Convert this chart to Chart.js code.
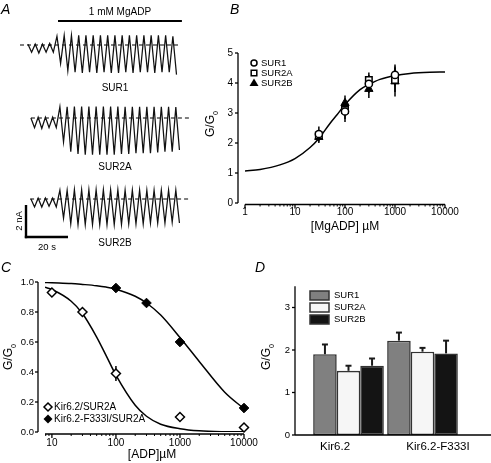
<!DOCTYPE html>
<html><head><meta charset="utf-8">
<script src="https://cdn.jsdelivr.net/npm/chart.js@4.4.1/dist/chart.umd.min.js"></script>
<style>
html,body{margin:0;padding:0;background:#fff;width:491px;height:463px;overflow:hidden}
canvas{position:absolute;left:0;top:0}
</style></head><body>
<canvas id="cA" width="491" height="463"></canvas>
<canvas id="cB" width="491" height="463"></canvas>
<canvas id="cC" width="491" height="463"></canvas>
<canvas id="cD" width="491" height="463"></canvas>
<script>
// ================= DATA =================
// Panel A: current traces (nA), one peak and one trough per voltage cycle
const traceCycleSec = 3.45;
const sur1StartSec = 3.8, sur2aStartSec = 5.2, sur2bStartSec = 5.2;
const adpWindowSec = [18.1, 77.1];
const sur1Peaks   = [0.05,0.05,0.05,0.10, 0.55,0.60,0.60,0.60,0.60,0.60,0.60,0.60,0.60,0.60,0.60,0.60,0.60,0.60,0.60,0.60,0.55];
const sur1Troughs = [-0.45,-0.50,-0.45,-0.45, -1.15,-1.60,-1.70,-1.75,-1.70,-1.75,-1.70,-1.75,-1.75,-1.70,-1.75,-1.70,-1.70,-1.75,-1.70,-1.70,-1.85];
const sur2aPeaks   = [0.00,0.05,0.05,0.05, 0.70,0.70,0.72,0.72,0.72,0.72,0.72,0.72,0.72,0.70,0.70,0.70,0.70,0.70,0.70,0.70,0.68];
const sur2aTroughs = [-0.60,-0.65,-0.60,-0.60, -1.50,-2.10,-2.25,-2.30,-2.30,-2.30,-2.30,-2.30,-2.25,-2.25,-2.20,-2.20,-2.20,-2.15,-2.10,-2.10,-2.00];
const sur2bPeaks   = [0.00,0.05,0.05,0.05, 0.55,0.55,0.58,0.58,0.58,0.58,0.58,0.58,0.58,0.55,0.55,0.55,0.55,0.55,0.55,0.55,0.55];
const sur2bTroughs = [-0.50,-0.50,-0.45,-0.50, -1.20,-1.55,-1.60,-1.60,-1.60,-1.60,-1.60,-1.60,-1.60,-1.55,-1.55,-1.55,-1.50,-1.50,-1.50,-1.45,-1.50];
const traceNames = ['SUR1','SUR2A','SUR2B'];
const scaleBarNA = 2, scaleBarSec = 20;

// Panel B: G/G0 vs [MgADP]
const bConc = [30, 100, 300, 1000];
const bSur1 = [2.30, 3.05, 3.97, 4.27];
const bSur1Err = [0.25, 0.35, 0.30, 0.35];
const bSur2a = [2.25, 3.10, 4.10, 4.10];
const bSur2aErr = [0.15, 0.30, 0.25, 0.40];
const bSur2b = [2.20, 3.33, 3.80, 4.05];
const bSur2bErr = [0.20, 0.25, 0.30, 0.50];
const bFitX = [1, 2, 5, 10, 20, 30, 50, 70, 100, 200, 300, 500, 1000, 2000, 5000, 10000];
const bFitY = [1.07, 1.12, 1.27, 1.48, 1.85, 2.15, 2.65, 2.95, 3.28, 3.78, 3.95, 4.12, 4.25, 4.32, 4.36, 4.37];
const bYTicks = [0, 1, 2, 3, 4, 5];
const bXTicks = [1, 10, 100, 1000, 10000];

// Panel C: G/G0 vs [ADP]
const cConcWT = [10, 30, 100, 1000, 10000];
const cWT = [0.93, 0.80, 0.39, 0.10, 0.03];
const cWTErr = [0.01, 0.01, 0.05, 0.015, 0.01];
const cConcMut = [100, 300, 1000, 10000];
const cMut = [0.96, 0.86, 0.60, 0.16];
const cMutErr = [0.01, 0.01, 0.015, 0.01];
const cFitX = [7.8, 10, 20, 30, 50, 70, 100, 200, 300, 500, 1000, 2000, 5000, 10000];
const cFitWT = [0.965, 0.950, 0.872, 0.790, 0.633, 0.511, 0.379, 0.178, 0.105, 0.052, 0.022, 0.008, 0.002, 0.001];
const cFitMut = [0.997, 0.995, 0.990, 0.984, 0.975, 0.966, 0.952, 0.905, 0.860, 0.780, 0.630, 0.470, 0.265, 0.155];
const cYTicks = [0, 0.2, 0.4, 0.6, 0.8, 1.0];
const cXTicks = [10, 100, 1000, 10000];
const cSeriesNames = ['Kir6.2/SUR2A', 'Kir6.2-F333I/SUR2A'];

// Panel D: bar chart
const dCategories = ['Kir6.2', 'Kir6.2-F333I'];
const dSur1 = [1.90, 2.22];
const dSur1Err = [0.23, 0.19];
const dSur2a = [1.51, 1.96];
const dSur2aErr = [0.12, 0.09];
const dSur2b = [1.63, 1.92];
const dSur2bErr = [0.17, 0.30];
const dYTicks = [0, 1, 2, 3];
const dSeriesNames = ['SUR1', 'SUR2A', 'SUR2B'];

// ================= HELPERS =================
const W = 491, H = 463;
const FONT = '"Liberation Sans", Arial, Helvetica, sans-serif';
function txt(ctx, s, x, y, o = {}) {
  ctx.save();
  ctx.font = (o.style || '') + ' ' + (o.size || 10) + 'px ' + FONT;
  ctx.fillStyle = o.color || '#000';
  ctx.textAlign = o.align || 'center';
  ctx.textBaseline = o.base || 'middle';
  if (o.rot) { ctx.translate(x, y); ctx.rotate(o.rot); ctx.fillText(s, 0, 0); }
  else ctx.fillText(s, x, y);
  ctx.restore();
}
function seg(ctx, x0, y0, x1, y1, w = 1.2, c = '#000') {
  ctx.save(); ctx.strokeStyle = c; ctx.lineWidth = w; ctx.lineCap = 'butt';
  ctx.beginPath(); ctx.moveTo(x0, y0); ctx.lineTo(x1, y1); ctx.stroke(); ctx.restore();
}
function gLabel(ctx, x, y, size) {
  ctx.save();
  ctx.translate(x, y); ctx.rotate(-Math.PI / 2);
  ctx.font = size + 'px ' + FONT;
  const w1 = ctx.measureText('G/G').width;
  ctx.font = (size * 0.6) + 'px ' + FONT;
  const w2 = ctx.measureText('0').width;
  const x0 = -(w1 + w2) / 2;
  ctx.fillStyle = '#000'; ctx.textBaseline = 'alphabetic'; ctx.textAlign = 'left';
  ctx.font = size + 'px ' + FONT;
  ctx.fillText('G/G', x0, size * 0.36);
  ctx.font = (size * 0.6) + 'px ' + FONT;
  ctx.fillText('0', x0 + w1, size * 0.36 + size * 0.3);
  ctx.restore();
}
function yAxis(ctx, s, xLine, vals, labels, o) {
  const top = s.getPixelForValue(o.to), bot = s.getPixelForValue(o.from);
  seg(ctx, xLine, top, xLine, bot, o.lw || 1.3);
  vals.forEach((v, i) => {
    const y = s.getPixelForValue(v);
    seg(ctx, xLine - o.tick, y, xLine, y, o.lw || 1.3);
    txt(ctx, labels[i], xLine - o.tick - o.gap, y, { align: 'right', size: o.size });
  });
}
function logXAxis(ctx, s, yLine, from, to, majors, o) {
  seg(ctx, s.getPixelForValue(from), yLine, s.getPixelForValue(to), yLine, o.lw || 1.3);
  for (let d = Math.floor(Math.log10(from)); d < Math.log10(to); d++) {
    for (let k = 2; k <= 9; k++) {
      const v = k * Math.pow(10, d);
      if (v < from || v > to) continue;
      const x = s.getPixelForValue(v);
      seg(ctx, x, yLine, x, yLine + o.minor, 1);
    }
  }
  majors.forEach(v => {
    const x = s.getPixelForValue(v);
    seg(ctx, x, yLine, x, yLine + o.major, o.lw || 1.3);
    txt(ctx, String(v), x, yLine + o.labelDy, { size: o.size });
  });
}
function pad(a) { return { left: a.l, top: a.t, right: W - a.r, bottom: H - a.b }; }
function pts(xs, ys) { return xs.map((x, i) => ({ x: x, y: ys[i] })); }
const baseOpts = (area, scales) => ({
  responsive: false, animation: false, events: [],
  layout: { padding: pad(area) },
  plugins: { legend: { display: false }, tooltip: { enabled: false } },
  scales: scales
});

// ================= PANEL A =================
const A_AREA = { l: 20, t: 5, r: 190, b: 250 };
const aPxPerNA = 16;
const aYMax = 40 / aPxPerNA;
const aYMin = aYMax - (A_AREA.b - A_AREA.t) / aPxPerNA;
const aOffsets = [0, -73 / aPxPerNA, -154 / aPxPerNA];
function tracePts(start, peaks, troughs, off) {
  const out = [];
  peaks.forEach((p, i) => {
    out.push({ x: start + i * traceCycleSec, y: p + off });
    out.push({ x: start + (i + 0.5) * traceCycleSec, y: troughs[i] + off });
  });
  return out;
}
const aTraceStyle = { showLine: true, pointRadius: 0, borderColor: '#111', borderWidth: 1.25, tension: 0, clip: false };
const aDash = { showLine: true, pointRadius: 0, borderColor: '#000', borderWidth: 1.2, borderDash: [4, 3] };
const aDashRanges = [[0, 76.2], [5.2, 81], [4.8, 81]];
new Chart(document.getElementById('cA'), {
  type: 'scatter',
  data: { datasets: [
    Object.assign({ data: tracePts(sur1StartSec, sur1Peaks, sur1Troughs, aOffsets[0]) }, aTraceStyle),
    Object.assign({ data: tracePts(sur2aStartSec, sur2aPeaks, sur2aTroughs, aOffsets[1]) }, aTraceStyle),
    Object.assign({ data: tracePts(sur2bStartSec, sur2bPeaks, sur2bTroughs, aOffsets[2]) }, aTraceStyle),
    Object.assign({ data: aDashRanges[0].map(x => ({ x, y: aOffsets[0] })) }, aDash),
    Object.assign({ data: aDashRanges[1].map(x => ({ x, y: aOffsets[1] })) }, aDash),
    Object.assign({ data: aDashRanges[2].map(x => ({ x, y: aOffsets[2] })) }, aDash),
  ] },
  options: baseOpts(A_AREA, {
    x: { type: 'linear', display: false, min: 0, max: (A_AREA.r - A_AREA.l) / 2.1 },
    y: { type: 'linear', display: false, min: aYMin, max: aYMax }
  }),
  plugins: [{
    id: 'panelA',
    afterDraw(chart) {
      const ctx = chart.ctx, sx = chart.scales.x, sy = chart.scales.y;
      txt(ctx, 'A', 1, 10, { style: 'italic', size: 14, align: 'left' });
      const x0 = sx.getPixelForValue(adpWindowSec[0]), x1 = sx.getPixelForValue(adpWindowSec[1]);
      seg(ctx, x0, 21, x1, 21, 2);
      txt(ctx, '1 mM MgADP', (x0 + x1) / 2, 12, { size: 10 });
      txt(ctx, traceNames[0], 115, 88, { size: 10 });
      txt(ctx, traceNames[1], 115, 167, { size: 10 });
      txt(ctx, traceNames[2], 115, 243, { size: 10 });
      const t0 = 2.86, v0 = -12;
      const px0 = sx.getPixelForValue(t0), py0 = sy.getPixelForValue(v0);
      const pyTop = sy.getPixelForValue(v0 + scaleBarNA), pxR = sx.getPixelForValue(t0 + scaleBarSec);
      seg(ctx, px0, pyTop, px0, py0 + 1.2, 2.4);
      seg(ctx, px0 - 1.2, py0, pxR, py0, 2.4);
      txt(ctx, '2 nA', px0 - 7, (pyTop + py0) / 2, { size: 9.5, rot: -Math.PI / 2 });
      txt(ctx, '20 s', (px0 + pxR) / 2, py0 + 10, { size: 9.5 });
    }
  }]
});

// ================= PANEL B =================
const B_AREA = { l: 245, t: 53, r: 445, b: 203 };
new Chart(document.getElementById('cB'), {
  type: 'scatter',
  data: { datasets: [
    { data: pts(bConc, bSur1), pointStyle: 'circle', pointRadius: 3.6, pointBackgroundColor: '#fff', pointBorderColor: '#000', pointBorderWidth: 1.5, order: 1, clip: false },
    { data: pts(bConc, bSur2a), pointStyle: 'rect', pointRadius: 4.6, pointBackgroundColor: '#fff', pointBorderColor: '#000', pointBorderWidth: 1.5, order: 2, clip: false },
    { data: pts(bConc, bSur2b), pointStyle: 'triangle', pointRadius: 4.8, pointBackgroundColor: '#000', pointBorderColor: '#000', pointBorderWidth: 1, order: 3, clip: false },
    { data: pts(bFitX, bFitY), showLine: true, pointRadius: 0, borderColor: '#000', borderWidth: 1.5, cubicInterpolationMode: 'monotone', order: 10 },
  ] },
  options: baseOpts(B_AREA, {
    x: { type: 'logarithmic', display: false, min: 1, max: 10000 },
    y: { type: 'linear', display: false, min: 0, max: 5 }
  }),
  plugins: [{
    id: 'panelB',
    beforeDatasetsDraw(chart) {
      const ctx = chart.ctx, sx = chart.scales.x, sy = chart.scales.y;
      [[bSur1, bSur1Err], [bSur2a, bSur2aErr], [bSur2b, bSur2bErr]].forEach(([v, e]) => {
        bConc.forEach((c, i) => {
          const x = sx.getPixelForValue(c);
          seg(ctx, x, sy.getPixelForValue(v[i] - e[i]), x, sy.getPixelForValue(v[i] + e[i]), 1.5);
        });
      });
    },
    afterDraw(chart) {
      const ctx = chart.ctx, sx = chart.scales.x, sy = chart.scales.y;
      txt(ctx, 'B', 230, 10, { style: 'italic', size: 14, align: 'left' });
      yAxis(ctx, sy, 238, bYTicks, bYTicks.map(String), { from: 0, to: 5, tick: 3, gap: 2, size: 10 });
      logXAxis(ctx, sx, 204.5, 1, 10000, bXTicks, { minor: 2, major: 4, labelDy: 8, size: 10 });
      txt(ctx, '[MgADP] \u00B5M', 345, 227, { size: 12 });
      gLabel(ctx, 210, 124, 12);
      const lx = 254, ly = [63, 73, 83];
      ctx.save();
      ctx.lineWidth = 1.5; ctx.strokeStyle = '#000';
      ctx.fillStyle = '#fff'; ctx.beginPath(); ctx.arc(lx, ly[0], 3, 0, Math.PI * 2); ctx.fill(); ctx.stroke();
      ctx.beginPath(); ctx.rect(lx - 2.8, ly[1] - 2.8, 5.6, 5.6); ctx.fill(); ctx.stroke();
      ctx.fillStyle = '#000'; ctx.beginPath(); ctx.moveTo(lx, ly[2] - 4.5); ctx.lineTo(lx + 4.5, ly[2] + 3); ctx.lineTo(lx - 4.5, ly[2] + 3); ctx.closePath(); ctx.fill();
      ctx.restore();
      traceNames.forEach((n, i) => txt(ctx, n, lx + 7, ly[i], { size: 9.5, align: 'left' }));
    }
  }]
});

// ================= PANEL C =================
const C_AREA = { l: 45, t: 282, r: 244, b: 432 };
new Chart(document.getElementById('cC'), {
  type: 'scatter',
  data: { datasets: [
    { data: pts(cConcWT, cWT), pointStyle: 'rectRot', pointRadius: 4.5, pointBackgroundColor: '#fff', pointBorderColor: '#000', pointBorderWidth: 1.5, order: 1, clip: false },
    { data: pts(cConcMut, cMut), pointStyle: 'rectRot', pointRadius: 4.8, pointBackgroundColor: '#000', pointBorderColor: '#000', pointBorderWidth: 1, order: 2, clip: false },
    { data: pts(cFitX, cFitWT), showLine: true, pointRadius: 0, borderColor: '#000', borderWidth: 1.5, cubicInterpolationMode: 'monotone', order: 10 },
    { data: pts(cFitX, cFitMut), showLine: true, pointRadius: 0, borderColor: '#000', borderWidth: 1.5, cubicInterpolationMode: 'monotone', order: 11 },
  ] },
  options: baseOpts(C_AREA, {
    x: { type: 'logarithmic', display: false, min: 7.8, max: 10000 },
    y: { type: 'linear', display: false, min: 0, max: 1 }
  }),
  plugins: [{
    id: 'panelC',
    beforeDatasetsDraw(chart) {
      const ctx = chart.ctx, sx = chart.scales.x, sy = chart.scales.y;
      [[cConcWT, cWT, cWTErr], [cConcMut, cMut, cMutErr]].forEach(([c, v, e]) => {
        c.forEach((cc, i) => {
          const x = sx.getPixelForValue(cc);
          seg(ctx, x, sy.getPixelForValue(v[i] - e[i]), x, sy.getPixelForValue(v[i] + e[i]), 1.5);
        });
      });
    },
    afterDraw(chart) {
      const ctx = chart.ctx, sx = chart.scales.x, sy = chart.scales.y;
      txt(ctx, 'C', 1, 268, { style: 'italic', size: 14, align: 'left' });
      yAxis(ctx, sy, 38, cYTicks, cYTicks.map(v => v.toFixed(1)), { from: 0, to: 1, tick: 3, gap: 1, size: 9.5 });
      logXAxis(ctx, sx, 434, 7.8, 10000, cXTicks, { minor: 2, major: 4, labelDy: 9, size: 10 });
      txt(ctx, '[ADP]\u00B5M', 152, 455, { size: 12 });
      gLabel(ctx, 8, 357, 12);
      const lx = 48, ly = [407, 419];
      ctx.save(); ctx.lineWidth = 1.5; ctx.strokeStyle = '#000';
      ctx.fillStyle = '#fff'; ctx.beginPath(); ctx.moveTo(lx, ly[0] - 4); ctx.lineTo(lx + 4, ly[0]); ctx.lineTo(lx, ly[0] + 4); ctx.lineTo(lx - 4, ly[0]); ctx.closePath(); ctx.fill(); ctx.stroke();
      ctx.fillStyle = '#000'; ctx.beginPath(); ctx.moveTo(lx, ly[1] - 4.5); ctx.lineTo(lx + 4.5, ly[1]); ctx.lineTo(lx, ly[1] + 4.5); ctx.lineTo(lx - 4.5, ly[1]); ctx.closePath(); ctx.fill();
      ctx.restore();
      cSeriesNames.forEach((n, i) => txt(ctx, n, lx + 6, ly[i], { size: 10, align: 'left' }));
    }
  }]
});

// ================= PANEL D =================
const D_AREA = { l: 311.5, t: 435 - 3.5 * 42.5, r: 459.5, b: 435 };
const dColors = ['#808080', '#f6f6f6', '#141414'];
const dErrs = [dSur1Err, dSur2aErr, dSur2bErr];
const dLabelX = [335, 438];
new Chart(document.getElementById('cD'), {
  type: 'bar',
  data: { labels: dCategories, datasets: [dSur1, dSur2a, dSur2b].map((d, i) => ({
    label: dSeriesNames[i], data: d, backgroundColor: dColors[i], borderColor: '#333', borderWidth: 1.6, borderSkipped: false,
    categoryPercentage: 0.955, barPercentage: 1.0
  })) },
  options: baseOpts(D_AREA, {
    x: { type: 'category', display: false },
    y: { type: 'linear', display: false, min: 0, max: 3.5 }
  }),
  plugins: [{
    id: 'panelD',
    beforeDatasetsDraw(chart) {
      const ctx = chart.ctx, sy = chart.scales.y;
      chart.data.datasets.forEach((ds, di) => {
        chart.getDatasetMeta(di).data.forEach((bar, i) => {
          const yTop = sy.getPixelForValue(ds.data[i] + dErrs[di][i]);
          seg(ctx, bar.x, sy.getPixelForValue(ds.data[i]), bar.x, yTop, 2, '#1a1a1a');
          seg(ctx, bar.x - 3, yTop, bar.x + 3, yTop, 2, '#1a1a1a');
        });
      });
    },
    afterDraw(chart) {
      const ctx = chart.ctx, sy = chart.scales.y;
      txt(ctx, 'D', 255, 268, { style: 'italic', size: 14, align: 'left' });
      yAxis(ctx, sy, 295, dYTicks, dYTicks.map(String), { from: 0, to: 3.5, tick: 3, gap: 2, size: 9.5 });
      seg(ctx, 295, 435, 491, 435, 1.3);
      dCategories.forEach((c, i) => txt(ctx, c, dLabelX[i], 447, { size: 11.5 }));
      gLabel(ctx, 266, 357, 12);
      const bx = 310, by = [291, 303, 315];
      dSeriesNames.forEach((n, i) => {
        ctx.save(); ctx.fillStyle = dColors[i]; ctx.strokeStyle = '#333'; ctx.lineWidth = 1.5;
        ctx.fillRect(bx, by[i], 19, 9); ctx.strokeRect(bx, by[i], 19, 9); ctx.restore();
        txt(ctx, n, bx + 24, by[i] + 4.5, { size: 9.5, align: 'left' });
      });
    }
  }]
});
</script>
</body></html>
